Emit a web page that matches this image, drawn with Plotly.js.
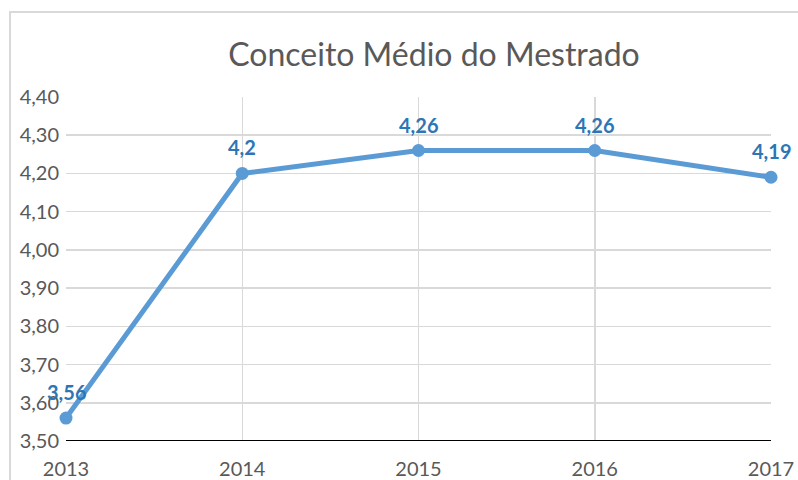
<!DOCTYPE html>
<html>
<head>
<meta charset="utf-8">
<script src="https://cdn.plot.ly/plotly-3.0.1.min.js"></script>
<style>
html,body{margin:0;padding:0;background:#fff;overflow:hidden;}
#chart{width:798px;height:480px;}
</style>
</head>
<body>
<div id="chart"></div>
<script>
const years = ['2013', '2014', '2015', '2016', '2017'];
const conceito = [3.56, 4.2, 4.26, 4.26, 4.19];
const yTicks = [3.5, 3.6, 3.7, 3.8, 3.9, 4.0, 4.1, 4.2, 4.3, 4.4];
const yTickText = ['3,50', '3,60', '3,70', '3,80', '3,90', '4,00', '4,10', '4,20', '4,30', '4,40'];
const labels = conceito.map(v => String(v).replace('.', ','));

const font = 'Lato, "Open Sans", "Liberation Sans", sans-serif';

const trace = {
  x: years,
  y: conceito,
  type: 'scatter',
  mode: 'lines+markers',
  line: {color: '#5B9BD5', width: 5},
  marker: {color: '#5B9BD5', size: 13},
  cliponaxis: false,
  hoverinfo: 'skip'
};

// category axis: annotation x given as category index
const annotations = years.map((yr, i) => ({
  x: i, y: conceito[i], xref: 'x', yref: 'y',
  text: '<b>' + labels[i] + '</b>',
  showarrow: false,
  yanchor: 'bottom', xanchor: 'center',
  yshift: 12,
  font: {family: font, size: 20, color: '#2E75B6'}
}));

const layout = {
  width: 798, height: 480,
  margin: {l: 66, r: 27, t: 97, b: 39},
  paper_bgcolor: '#fff', plot_bgcolor: '#fff',
  showlegend: false,
  separators: ',.',
  title: {
    text: 'Conceito Médio do Mestrado',
    font: {family: font, size: 32, color: '#595959'},
    x: 0.522, xref: 'paper', xanchor: 'center',
    y: 0.885, yref: 'container', yanchor: 'middle'
  },
  xaxis: {
    type: 'category',
    range: [0, 4],
    showgrid: true, gridcolor: '#d9d9d9', gridwidth: 1.5,
    showline: false, zeroline: false,
    ticks: '',
    ticklabelstandoff: 14,
    tickfont: {family: font, size: 20, color: '#595959'},
    fixedrange: true
  },
  yaxis: {
    range: [3.5, 4.4],
    tickvals: yTicks, ticktext: yTickText,
    showgrid: true, gridcolor: '#d9d9d9', gridwidth: 1.5,
    showline: false, zeroline: false,
    ticks: '',
    ticklabelstandoff: 6,
    tickfont: {family: font, size: 20, color: '#595959'},
    fixedrange: true
  },
  annotations: annotations,
  shapes: [
    {type: 'line', xref: 'paper', yref: 'y', x0: 0, x1: 1, y0: 3.5, y1: 3.5,
     line: {color: '#000', width: 2}, layer: 'above'},
    {type: 'rect', xref: 'paper', yref: 'paper',
     x0: (10 - 66) / 705, x1: 1.3, y0: -0.5, y1: 1 + (97 - 12) / 344,
     line: {color: '#d9d9d9', width: 2}, fillcolor: 'rgba(0,0,0,0)', layer: 'below'}
  ]
};

Plotly.newPlot('chart', [trace], layout, {displayModeBar: false, staticPlot: true});
</script>
</body>
</html>
